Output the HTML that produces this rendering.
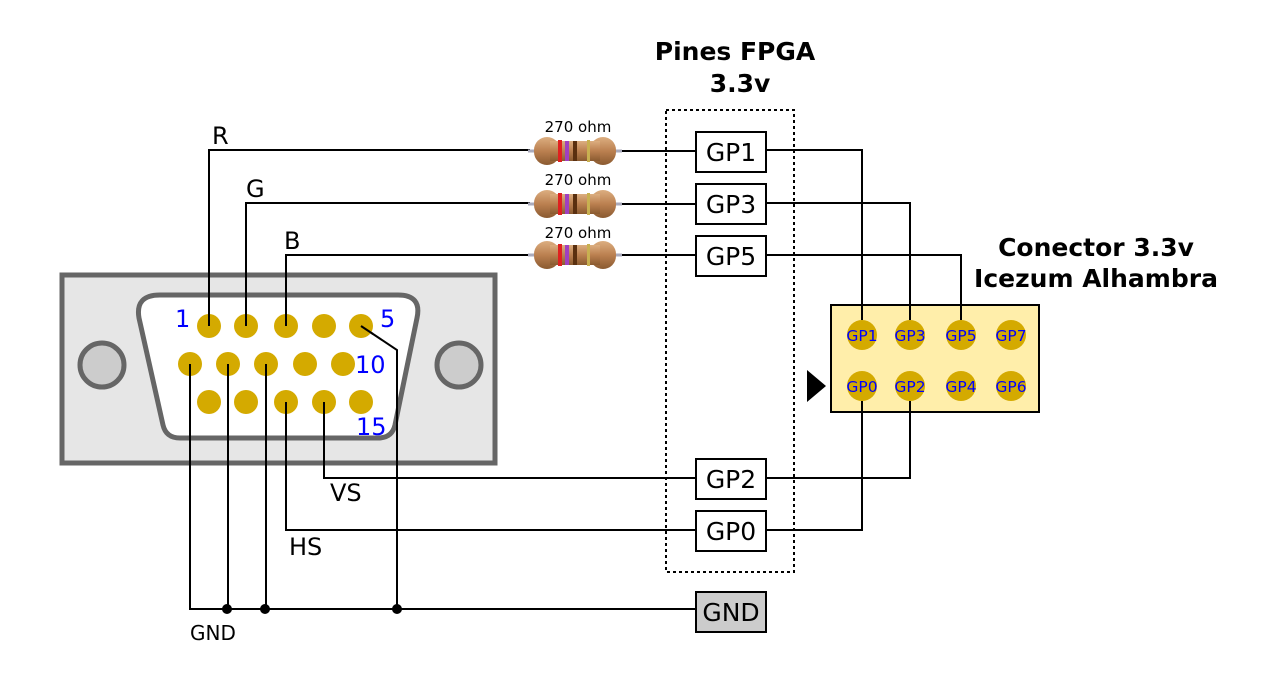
<!DOCTYPE html>
<html><head><meta charset="utf-8"><style>body{margin:0;background:#fff}svg{display:block}</style></head><body>
<svg width="1264" height="684" viewBox="0 0 1264 684" xmlns="http://www.w3.org/2000/svg" font-family="DejaVu Sans, Liberation Sans, sans-serif">
<defs>
<linearGradient id="rg" x1="0" y1="0" x2="0" y2="1"><stop offset="0" stop-color="#dcae80"/><stop offset="0.5" stop-color="#bb8050"/><stop offset="1" stop-color="#8a5a30"/></linearGradient>
<g id="res">
<line x1="-2" y1="0" x2="6" y2="0" stroke="#aab" stroke-width="3"/>
<line x1="84" y1="0" x2="92" y2="0" stroke="#aab" stroke-width="3"/>
<rect x="4" y="-14" width="26" height="28" rx="13" fill="url(#rg)"/>
<rect x="60" y="-14" width="26" height="28" rx="13" fill="url(#rg)"/>
<rect x="20" y="-10" width="50" height="20" fill="url(#rg)"/>
<rect x="28" y="-11" width="4" height="22" fill="#e02020"/>
<rect x="35" y="-10" width="4" height="20" fill="#a040c0"/>
<rect x="43" y="-10" width="4" height="20" fill="#5a3010"/>
<rect x="57" y="-11" width="3" height="22" fill="#c8b050"/>
</g>
</defs>
<g fill="none" stroke="#000" stroke-width="2">
<polyline points="209,326 209,150 530,150"/>
<polyline points="246,326 246,203 530,203"/>
<polyline points="286,326 286,255 530,255"/>
<line x1="620" y1="151" x2="696" y2="151"/>
<line x1="620" y1="204" x2="696" y2="204"/>
<line x1="620" y1="255" x2="696" y2="255"/>
<polyline points="766,150 862,150 862,335"/>
<polyline points="766,203 910,203 910,335"/>
<polyline points="766,255 961,255 961,335"/>
<polyline points="766,478 910,478 910,386"/>
<polyline points="766,530 862,530 862,386"/>
</g>
<rect x="666" y="110" width="128" height="462" fill="none" stroke="#000" stroke-width="2" stroke-dasharray="3,3"/>
<text x="735" y="60" font-size="25" font-weight="bold" text-anchor="middle">Pines FPGA</text>
<text x="740" y="92" font-size="25" font-weight="bold" text-anchor="middle">3.3v</text>
<g font-size="15" text-anchor="middle"><text x="578" y="132">270 ohm</text><text x="578" y="185">270 ohm</text><text x="578" y="238">270 ohm</text></g>
<use href="#res" x="530" y="151"/><use href="#res" x="530" y="204"/><use href="#res" x="530" y="255"/>
<g stroke="#000" stroke-width="2" fill="#fff">
<rect x="696" y="132" width="70" height="40"/><rect x="696" y="184" width="70" height="40"/><rect x="696" y="236" width="70" height="40"/>
<rect x="696" y="459" width="70" height="40"/><rect x="696" y="511" width="70" height="40"/>
<rect x="696" y="592" width="70" height="40" fill="#ccc"/>
</g>
<g font-size="25" text-anchor="middle"><text x="731" y="161">GP1</text><text x="731" y="213">GP3</text><text x="731" y="265">GP5</text><text x="731" y="488">GP2</text><text x="731" y="540">GP0</text><text x="731" y="621">GND</text></g>
<text x="1096" y="256" font-size="25" font-weight="bold" text-anchor="middle">Conector 3.3v</text>
<text x="1096" y="287" font-size="25" font-weight="bold" text-anchor="middle">Icezum Alhambra</text>
<rect x="831" y="305" width="208" height="107" fill="#ffeeaa" stroke="#000" stroke-width="2"/>
<polygon points="807,370 826,386 807,402" fill="#000"/>
<g fill="#d4aa00"><circle cx="862" cy="335" r="15"/><circle cx="910" cy="335" r="15"/><circle cx="961" cy="335" r="15"/><circle cx="1011" cy="335" r="15"/><circle cx="862" cy="386" r="15"/><circle cx="910" cy="386" r="15"/><circle cx="961" cy="386" r="15"/><circle cx="1011" cy="386" r="15"/></g>
<g stroke="#000" stroke-width="2"><line x1="862" y1="305" x2="862" y2="320"/><line x1="910" y1="305" x2="910" y2="320"/><line x1="961" y1="305" x2="961" y2="320"/><line x1="862" y1="401" x2="862" y2="412"/><line x1="910" y1="401" x2="910" y2="412"/></g>
<g fill="#00f" font-size="15.5" text-anchor="middle"><text x="862" y="341">GP1</text><text x="910" y="341">GP3</text><text x="961" y="341">GP5</text><text x="1011" y="341">GP7</text><text x="862" y="392">GP0</text><text x="910" y="392">GP2</text><text x="961" y="392">GP4</text><text x="1011" y="392">GP6</text></g>
<rect x="62" y="275" width="433" height="188" fill="#e6e6e6" stroke="#666" stroke-width="5"/>
<circle cx="102" cy="365" r="22" fill="#ccc" stroke="#666" stroke-width="5"/>
<circle cx="459" cy="365" r="22" fill="#ccc" stroke="#666" stroke-width="5"/>
<path d="M160,295 L398,295 Q422,295 417,318 L395,425 Q392,438 378,438 L180,438 Q166,438 163,425 L139,318 Q135,295 160,295 Z" fill="#fff" stroke="#666" stroke-width="5"/>
<g fill="none" stroke="#000" stroke-width="2">
<polyline points="209,326 209,150"/>
<polyline points="246,326 246,203"/><polyline points="286,326 286,255"/>
<polyline points="324,402 324,478 696,478"/>
<polyline points="286,402 286,530 696,530"/>
<polyline points="190,364 190,609 696,609"/>
<line x1="228" y1="364" x2="228" y2="609"/>
<line x1="266" y1="364" x2="266" y2="609"/>
<polyline points="361,326 397,350 397,609"/>
</g>
<g fill="#d4aa00">
<circle cx="209" cy="326" r="12"/><circle cx="246" cy="326" r="12"/><circle cx="286" cy="326" r="12"/><circle cx="324" cy="326" r="12"/><circle cx="361" cy="326" r="12"/>
<circle cx="190" cy="364" r="12"/><circle cx="228" cy="364" r="12"/><circle cx="266" cy="364" r="12"/><circle cx="305" cy="364" r="12"/><circle cx="343" cy="364" r="12"/>
<circle cx="209" cy="402" r="12"/><circle cx="246" cy="402" r="12"/><circle cx="286" cy="402" r="12"/><circle cx="324" cy="402" r="12"/><circle cx="361" cy="402" r="12"/>
</g>
<g stroke="#000" stroke-width="2"><line x1="209" y1="326" x2="209" y2="314"/><line x1="246" y1="326" x2="246" y2="314"/><line x1="286" y1="326" x2="286" y2="314"/><line x1="361" y1="326" x2="373" y2="334"/><line x1="190" y1="364" x2="190" y2="376"/><line x1="228" y1="364" x2="228" y2="376"/><line x1="266" y1="364" x2="266" y2="376"/><line x1="286" y1="402" x2="286" y2="414"/><line x1="324" y1="402" x2="324" y2="414"/></g>
<g fill="#000"><circle cx="227" cy="609" r="5"/><circle cx="265" cy="609" r="5"/><circle cx="397" cy="609" r="5"/></g>
<g fill="#00f" font-size="24"><text x="175" y="327">1</text><text x="380" y="327">5</text><text x="355" y="373">10</text><text x="356" y="435">15</text></g>
<g font-size="24"><text x="212" y="144">R</text><text x="246" y="197">G</text><text x="284" y="249">B</text><text x="330" y="501">VS</text><text x="289" y="555">HS</text></g>
<text x="190" y="640" font-size="20">GND</text>
</svg>
</body></html>
